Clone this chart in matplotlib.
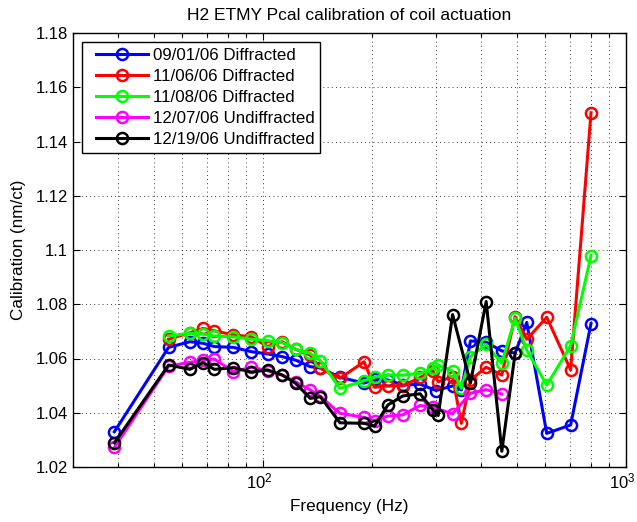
import matplotlib
matplotlib.use("Agg")
import matplotlib.pyplot as plt
import matplotlib.transforms as mtransforms
from matplotlib.lines import Line2D
from matplotlib.legend_handler import HandlerLine2D
from matplotlib.ticker import FixedLocator, FuncFormatter, LogLocator, NullFormatter
import numpy as np

plt.rcParams['font.family'] = ['Liberation Sans', 'DejaVu Sans']

# ---- data (frequency in Hz, calibration in nm/ct) ----
f_0901 = [39, 55, 63, 68.5, 73.5, 83, 93, 103, 113, 123, 135, 144, 163, 190, 203, 221, 243, 271, 300,
          333, 352, 373, 412, 455, 495, 533, 605, 704, 801]
v_0901 = [1.0330, 1.0641, 1.0662, 1.0656, 1.0644, 1.0641, 1.0625, 1.0617, 1.0607, 1.0594, 1.0570, 1.0565,
          1.0531, 1.0509, 1.0523, 1.0521, 1.0502, 1.0505, 1.0482, 1.0499, 1.0484, 1.0665, 1.0660, 1.0628,
          1.0620, 1.0733, 1.0324, 1.0355, 1.0729]

f_1106 = [55, 63, 68.5, 73.5, 83, 93, 103, 113, 123, 135, 144, 163, 190, 203, 221, 243, 271, 294, 304,
          333, 352, 373, 412, 455, 495, 533, 605, 704, 801]
v_1106 = [1.0671, 1.0695, 1.0711, 1.0702, 1.0687, 1.0680, 1.0644, 1.0662, 1.0634, 1.0613, 1.0564, 1.0527,
          1.0588, 1.0494, 1.0499, 1.0499, 1.0530, 1.0554, 1.0514, 1.0533, 1.0361, 1.0520, 1.0568, 1.0539,
          1.0754, 1.0671, 1.0752, 1.0558, 1.1506]

f_1108 = [55, 63, 68.5, 73.5, 83, 93, 103, 113, 123, 135, 144, 163, 190, 203, 221, 243, 271, 294, 304,
          333, 352, 373, 412, 455, 495, 533, 605, 704, 801]
v_1108 = [1.0683, 1.0693, 1.0690, 1.0683, 1.0680, 1.0671, 1.0666, 1.0658, 1.0634, 1.0619, 1.0592, 1.0490,
          1.0518, 1.0531, 1.0539, 1.0539, 1.0545, 1.0564, 1.0576, 1.0554, 1.0490, 1.0607, 1.0652, 1.0582,
          1.0748, 1.0631, 1.0502, 1.0647, 1.0979]

f_1207 = [39, 55, 63, 68.5, 73.5, 83, 93, 103, 113, 123, 135, 144, 163, 190, 203, 221, 243, 271, 294,
          333, 373, 412, 455]
v_1207 = [1.0272, 1.0572, 1.0586, 1.0594, 1.0598, 1.0551, 1.0568, 1.0555, 1.0539, 1.0514, 1.0484, 1.0460,
          1.0398, 1.0383, 1.0371, 1.0388, 1.0392, 1.0427, 1.0420, 1.0396, 1.0472, 1.0485, 1.0469]

f_1219 = [39, 55, 63, 68.5, 73.5, 83, 93, 103, 113, 123, 135, 144, 163, 190, 203, 221, 243, 271, 294,
          304, 333, 373, 412, 455, 495]
v_1219 = [1.0289, 1.0576, 1.0560, 1.0585, 1.0560, 1.0566, 1.0550, 1.0558, 1.0539, 1.0509, 1.0453, 1.0459,
          1.0363, 1.0361, 1.0351, 1.0429, 1.0462, 1.0470, 1.0410, 1.0390, 1.0762, 1.0510, 1.0810, 1.0258,
          1.0619]

series = [
    (f_0901, v_0901, '09/01/06 Diffracted', '#0000ff'),
    (f_1106, v_1106, '11/06/06 Diffracted', '#ff0000'),
    (f_1108, v_1108, '11/08/06 Diffracted', '#00ff00'),
    (f_1207, v_1207, '12/07/06 Undiffracted', '#ff00ff'),
    (f_1219, v_1219, '12/19/06 Undiffracted', '#000000'),
]

title = 'H2 ETMY Pcal calibration of coil actuation'
xlabel = 'Frequency (Hz)'
ylabel = 'Calibration (nm/ct)'
yticks = [1.02, 1.04, 1.06, 1.08, 1.10, 1.12, 1.14, 1.16, 1.18]

fig = plt.figure(figsize=(6.37, 5.22), dpi=100)
ax = fig.add_axes([73/637, 1-467/522, (626-73)/637, (467-33)/522])

for f, v, lab, col in series:
    ax.plot(f, v, '-o', color=col, lw=2.2, ms=8, mfc='none', mec=col, mew=1.8, label=lab)

ax.set_xscale('log')
ax.set_xlim(30, 1000)
ax.set_ylim(1.02, 1.18)
ax.yaxis.set_major_locator(FixedLocator(yticks))
ax.yaxis.set_major_formatter(FuncFormatter(lambda y, p: '%g' % round(y, 2)))
ax.xaxis.set_major_locator(LogLocator(base=10, numticks=10))
ax.xaxis.set_minor_locator(LogLocator(base=10, subs=np.arange(2, 10), numticks=20))
ax.xaxis.set_minor_formatter(NullFormatter())

ax.grid(True, which='major', axis='both', color='k', linestyle=(0, (1, 4)), lw=0.6)
ax.grid(True, which='minor', axis='x', color='k', linestyle=(0, (1, 4)), lw=0.6)

ax.tick_params(which='both', direction='in', top=True, right=True, labelsize=12, width=0.8)
ax.tick_params(which='major', length=5)
ax.tick_params(which='minor', length=3)
for s in ax.spines.values():
    s.set_linewidth(1.0)

# shift x tick labels a little left so the 10^3 label stays inside the figure
shift = mtransforms.ScaledTranslation(-4/100, 0, fig.dpi_scale_trans)
for lbl in ax.get_xticklabels():
    lbl.set_transform(lbl.get_transform() + shift)

ax.set_title(title, fontsize=12.5, pad=9)
ax.set_xlabel(xlabel, fontsize=12.3, labelpad=5)
ax.set_ylabel(ylabel, fontsize=12.3, labelpad=7)

leg = ax.legend(loc='upper left', fontsize=12.2, frameon=True, fancybox=False, shadow=False,
                handlelength=3.5, borderpad=0.35, labelspacing=0.35, handletextpad=0.3,
                borderaxespad=0.55, handler_map={Line2D: HandlerLine2D(xpad=0.47)})
leg.get_frame().set_edgecolor('k')
leg.get_frame().set_linewidth(1.0)
leg.get_frame().set_alpha(1)

fig.savefig('out.png', dpi=100)
